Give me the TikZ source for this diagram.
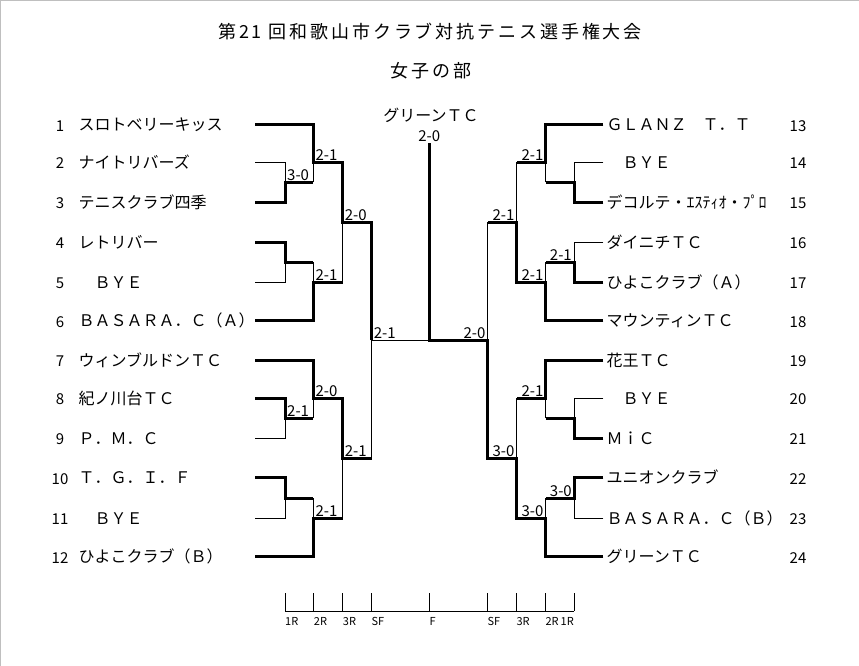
\documentclass[tikz,border=0pt]{standalone}
\usepackage{fontspec}
\setmainfont{Noto Sans CJK JP}
\newfontfamily\ttlfont[LetterSpace=16]{Noto Sans CJK JP}
\begin{document}
\begin{tikzpicture}[x=1pt,y=-1pt,
  thinln/.style={line width=1pt},
  thickln/.style={line width=3pt,line join=miter},
  teamname/.style={font=\fontsize{16}{16}\selectfont,inner sep=0pt,anchor=base west},
  seed/.style={font=\fontsize{15}{15}\selectfont,inner sep=0pt,anchor=base},
  scoreL/.style={font=\fontsize{15}{15}\selectfont,inner xsep=2pt,inner ysep=1.5pt,anchor=south west},
  scoreR/.style={font=\fontsize{15}{15}\selectfont,inner xsep=2pt,inner ysep=1.5pt,anchor=south east},
  axislbl/.style={font=\fontsize{11}{11}\selectfont,inner sep=0pt},
  ttl/.style={font=\ttlfont\fontsize{18}{18}\selectfont,inner sep=0pt},
  edge/.style={black!25,line width=1pt}
]
\useasboundingbox (0,0) rectangle (859,666);
\fill[white] (0,0) rectangle (859,666);
\draw[edge] (0.5,666) -- (0.5,0.5) -- (859,0.5);

% titles
\node[ttl] (title) at (430,32) {第21 回和歌山市クラブ対抗テニス選手権大会};
\node[ttl] (subtitle) at (431,71) {女子の部};

% row start coordinates
\foreach \i/\y in {1/125,2/162.3,3/202.3,4/242.3,5/282.3,6/320.7,7/360,8/398.3,9/438.3,10/477.7,11/518.3,12/556.7}{
  \coordinate (L\i) at (255,\y);
}
\foreach \i/\y in {13/125,14/162.3,15/202.3,16/242.3,17/282.3,18/320.7,19/360,20/398.3,21/438.3,22/477.7,23/518.3,24/556.7}{
  \coordinate (R\i) at (603.3,\y);
}

% left names and seeds
\foreach \i/\y/\t in {1/125/スロトベリーキッス,2/162.3/ナイトリバーズ,3/202.3/テニスクラブ四季,4/242.3/レトリバー,5/282.3/　ＢＹＥ,6/320.7/ＢＡＳＡＲＡ．Ｃ（Ａ）,7/360/ウィンブルドンＴＣ,8/398.3/紀ノ川台ＴＣ,9/438.3/Ｐ．Ｍ．Ｃ,10/477.7/Ｔ．Ｇ．Ｉ．Ｆ,11/518.3/　ＢＹＥ,12/556.7/ひよこクラブ（Ｂ）}{
  \node[seed] (s\i) at (60,\y+6.5) {\i};
  \node[teamname] (n\i) at (78.5,\y+6) {\t};
}
% right names and seeds
\foreach \i/\y/\t in {13/125/ＧＬＡＮＺ　Ｔ．Ｔ,14/162.3/　ＢＹＥ,15/202.3/デコルテ・ｴｽﾃｨｵ・ﾌﾟﾛ,16/242.3/ダイニチＴＣ,17/282.3/ひよこクラブ（Ａ）,18/320.7/マウンティンＴＣ,19/360/花王ＴＣ,20/398.3/　ＢＹＥ,21/438.3/ＭｉＣ,22/477.7/ユニオンクラブ,23/518.3/ＢＡＳＡＲＡ．Ｃ（Ｂ）,24/556.7/グリーンＴＣ}{
  \node[seed] (s\i) at (798,\y+6.5) {\i};
  \node[teamname] (n\i) at (606.5,\y+6) {\t};
}

% match points, left
\coordinate (A1) at (285,182.3);
\coordinate (A2) at (313.3,162.3);
\coordinate (B1) at (285,262.3);
\coordinate (B2) at (313.3,282.3);
\coordinate (C3) at (342.7,222.3);
\coordinate (D1) at (285,418.3);
\coordinate (D2) at (313.3,398.3);
\coordinate (E1) at (285,498);
\coordinate (E2) at (313.3,518.3);
\coordinate (F3) at (342.7,458.3);
\coordinate (LS) at (371.7,340.3);
% final
\coordinate (FN) at (429.3,340.3);
\coordinate (FT) at (429.3,143.3);
% match points, right
\coordinate (P1) at (574,182.3);
\coordinate (P2) at (545.7,162.3);
\coordinate (Q1) at (574,262.3);
\coordinate (Q2) at (545.7,282.3);
\coordinate (S3) at (516.7,222.3);
\coordinate (T1) at (574,418.3);
\coordinate (T2) at (545.7,398.3);
\coordinate (U1) at (574,498);
\coordinate (U2) at (545.7,518.3);
\coordinate (V3) at (516.7,458.3);
\coordinate (RS) at (487.7,340.3);

% thin (losing) lines, left
\draw[thinln] (L2) -| (A1);
\draw[thinln] (A1 -| A2) -- (A2);
\draw[thinln] (L5) -| (B1);
\draw[thinln] (B1 -| B2) -- (B2);
\draw[thinln] (B2 -| C3) -- (C3);
\draw[thinln] (LS) -- (FN);
\draw[thinln] (L9) -| (D1);
\draw[thinln] (D1 -| D2) -- (D2);
\draw[thinln] (L11) -| (E1);
\draw[thinln] (E1 -| E2) -- (E2);
\draw[thinln] (E2 -| F3) -- (F3);
\draw[thinln] (F3 -| LS) -- (LS);
% thin lines, right
\draw[thinln] (R14) -| (P1);
\draw[thinln] (P1 -| P2) -- (P2);
\draw[thinln] (P2 -| S3) -- (S3);
\draw[thinln] (R16) -| (Q1);
\draw[thinln] (Q1 -| Q2) -- (Q2);
\draw[thinln] (S3 -| RS) -- (RS);
\draw[thinln] (R20) -| (T1);
\draw[thinln] (T1 -| T2) -- (T2);
\draw[thinln] (T2 -| V3) -- (V3);
\draw[thinln] (R23) -| (U1);
\draw[thinln] (U1 -| U2) -- (U2);

% thick (winning) lines, left
\draw[thickln] (L1) -| (A2) -| (C3) -| (LS);
\draw[thickln] (L3) -| (A1) -- (A1 -| A2);
\draw[thickln] (L4) -| (B1) -- (B1 -| B2);
\draw[thickln] (L6) -| (B2) -- (B2 -| C3);
\draw[thickln] (L7) -| (D2) -| (F3) -- (F3 -| LS);
\draw[thickln] (L8) -| (D1) -- (D1 -| D2);
\draw[thickln] (L10) -| (E1) -- (E1 -| E2);
\draw[thickln] (L12) -| (E2) -- (E2 -| F3);
% thick lines, right
\draw[thickln] (R13) -| (P2) -- (P2 -| S3);
\draw[thickln] (R15) -| (P1) -- (P1 -| P2);
\draw[thickln] (R17) -| (Q1) -- (Q1 -| Q2);
\draw[thickln] (R18) -| (Q2) -| (S3) -- (S3 -| RS);
\draw[thickln] (R19) -| (T2) -- (T2 -| V3);
\draw[thickln] (R21) -| (T1) -- (T1 -| T2);
\draw[thickln] (R22) -| (U1) -- (U1 -| U2);
\draw[thickln] (R24) -| (U2) -| (V3) -| (RS) -- (FN) -- (FT);

% scores, left
\node[scoreL] (scA1) at (A1) {3-0};
\node[scoreL] (scA2) at (A2) {2-1};
\node[scoreL] (scB2) at (B2) {2-1};
\node[scoreL] (scC3) at (C3) {2-0};
\node[scoreL] (scD1) at (D1) {2-1};
\node[scoreL] (scD2) at (D2) {2-0};
\node[scoreL] (scE2) at (E2) {2-1};
\node[scoreL] (scF3) at (F3) {2-1};
\node[scoreL] (scLS) at (LS) {2-1};
% scores, right
\node[scoreR] (scP2) at (P2) {2-1};
\node[scoreR] (scQ1) at (Q1) {2-1};
\node[scoreR] (scQ2) at (Q2) {2-1};
\node[scoreR] (scS3) at (S3) {2-1};
\node[scoreR] (scT2) at (T2) {2-1};
\node[scoreR] (scU1) at (U1) {3-0};
\node[scoreR] (scU2) at (U2) {3-0};
\node[scoreR] (scV3) at (V3) {3-0};
\node[scoreR] (scRS) at (RS) {2-0};
% final
\node[font=\fontsize{15}{15}\selectfont,inner sep=0pt,anchor=base] (scF) at (429.3,141.5) {2-0};
\node[font=\fontsize{16}{16}\selectfont,inner sep=0pt,anchor=base] (champ) at (431,121.5) {グリーンＴＣ};

% round axis
\foreach \k/\x in {1/285,2/313.7,3/342.7,4/371.3,5/429.3,6/487.3,7/516.3,8/545.3,9/574}{
  \coordinate (K\k) at (\x,611);
  \coordinate (KT\k) at (\x,593.3);
  \draw[thinln] (KT\k) -- (K\k);
}
\draw[thinln] (K1) -- (K9);
\foreach \k/\t in {1/1R,2/2R,3/3R,4/SF,5/F,6/SF,7/3R,8/2R}{
  \node[axislbl,anchor=base west] (ax\k) at ([yshift=-14]K\k) {\t};
}
\node[axislbl,anchor=base east] (ax9) at ([yshift=-14]K9) {1R};
\end{tikzpicture}
\end{document}
